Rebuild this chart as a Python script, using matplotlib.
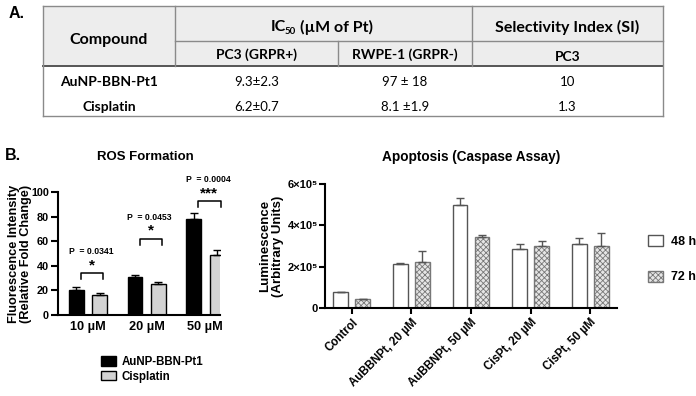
import numpy as np
import matplotlib
matplotlib.use("Agg")
import matplotlib.pyplot as plt
from matplotlib.patches import Rectangle

plt.rcParams['font.family'] = ['Liberation Sans', 'DejaVu Sans']
plt.rcParams['font.weight'] = 'bold'
plt.rcParams['hatch.linewidth'] = 0.6

# ---- table data (panel A)
compounds = ["AuNP-BBN-Pt1", "Cisplatin"]
ic50_pc3 = ["9.3±2.3", "6.2±0.7"]
ic50_rwpe = ["97 ± 18", "8.1 ±1.9"]
si_pc3 = ["10", "1.3"]

# ---- ROS formation data (panel B, left)
ros_doses = ["10 µM", "20 µM", "50 µM"]
ros_aunp = [20, 30.5, 78]
ros_aunp_err = [2.5, 2, 5]
ros_cis = [16.5, 25, 49]
ros_cis_err = [1, 2, 4]
ros_pvals = ["P  = 0.0341", "P  = 0.0453", "P  = 0.0004"]
ros_stars = ["*", "*", "***"]
ros_bracket = [34, 62, 92.5]

# ---- apoptosis data (panel B, right)
apo_groups = ["Control", "AuBBNPt, 20 µM", "AuBBNPt, 50 µM", "CisPt, 20 µM", "CisPt, 50 µM"]
apo_48h = [76e3, 213e3, 500e3, 285e3, 310e3]
apo_48h_err = [2e3, 6e3, 32e3, 25e3, 29e3]
apo_72h = [43e3, 223e3, 344e3, 298e3, 302e3]
apo_72h_err = [2e3, 51e3, 8e3, 28e3, 61e3]
apo_yticks = [0, 2e5, 4e5, 6e5]
apo_yticklabels = ["0", "2×10⁵", "4×10⁵", "6×10⁵"]

W, H = 696, 396
fig = plt.figure(figsize=(W / 100, H / 100), dpi=100)

# overlay axes in pixel coordinates for the table and panel letters
ov = fig.add_axes([0, 0, 1, 1])
ov.set_xlim(0, W)
ov.set_ylim(H, 0)
ov.axis('off')

tfont = ['Lato', 'DejaVu Sans']
L, R = 43, 663
c1, c2, c3 = 175, 338, 472
top, mid, hb, bot = 6, 41, 66, 116

ov.add_patch(Rectangle((L, top), R - L, hb - top, facecolor='#ededed', edgecolor='none'))
ov.plot([L, R], [top, top], color='#8a8a8a', lw=1)
ov.plot([c1, R], [mid, mid], color='#8a8a8a', lw=1)
ov.plot([L, R], [hb, hb], color='#555555', lw=1.4)
ov.plot([L, R], [bot, bot], color='#8a8a8a', lw=1)
for x in (L, R):
    ov.plot([x, x], [top, bot], color='#8a8a8a', lw=1)
for x in (c1, c3):
    ov.plot([x, x], [top, hb], color='#8a8a8a', lw=1)
ov.plot([c2, c2], [mid, hb], color='#8a8a8a', lw=1)

hdr = dict(family=tfont, fontweight='bold', va='center')
ov.text(17, 14, "A.", fontsize=11.5, fontweight='bold', ha='center', va='center')
ov.text((L + c1) / 2, 40, "Compound", fontsize=11.5, ha='center', **hdr)
ov.text(271, 27, "IC", fontsize=11.5, ha='left', **hdr)
ov.text(285, 31.5, "50", fontsize=7, ha='left', **hdr)
ov.text(300, 27, "(µM of Pt)", fontsize=11.5, ha='left', **hdr)
ov.text((c3 + R) / 2, 27, "Selectivity Index (SI)", fontsize=11.5, ha='center', **hdr)
ov.text((c1 + c2) / 2, 55, "PC3 (GRPR+)", fontsize=10, ha='center', **hdr)
ov.text((c2 + c3) / 2, 55, "RWPE-1 (GRPR-)", fontsize=10, ha='center', **hdr)
ov.text((c3 + R) / 2, 57, "PC3", fontsize=10, ha='center', **hdr)
row_y = [82, 107]
for i in range(len(compounds)):
    ov.text((L + c1) / 2, row_y[i], compounds[i], fontsize=10, ha='center', **hdr)
    body = dict(fontsize=9.5, family=tfont, fontweight='normal', ha='center', va='center')
    ov.text((c1 + c2) / 2, row_y[i], ic50_pc3[i], **body)
    ov.text((c2 + c3) / 2, row_y[i], ic50_rwpe[i], **body)
    ov.text((c3 + R) / 2, row_y[i], si_pc3[i], **body)

ov.text(13, 156, "B.", fontsize=11.5, fontweight='bold', ha='center', va='center')
ov.text(145, 157, "ROS Formation", fontsize=9.5, fontweight='bold', ha='center', va='center')
ov.text(471, 157, "Apoptosis (Caspase Assay)", fontsize=9.8, fontweight='bold', ha='center', va='center')


def px_axes(left, right, ytop, ybot):
    return fig.add_axes([left / W, (H - ybot) / H, (right - left) / W, (ybot - ytop) / H])


# ---- ROS panel
ax1 = px_axes(58, 220, 192, 315)
x = np.arange(len(ros_doses))
bw, off = 0.25, 0.2
ax1.bar(x - off, ros_aunp, bw, color='black', edgecolor='black', lw=1, label="AuNP-BBN-Pt1")
ax1.bar(x + off, ros_cis, bw, color='#d3d3d3', edgecolor='black', lw=1, label="Cisplatin")
ax1.errorbar(x - off, ros_aunp, yerr=[np.zeros(3), ros_aunp_err], fmt='none', ecolor='black', capsize=3, elinewidth=1)
ax1.errorbar(x + off, ros_cis, yerr=[np.zeros(3), ros_cis_err], fmt='none', ecolor='black', capsize=3, elinewidth=1)
for i in range(len(ros_doses)):
    b = ros_bracket[i]
    ax1.plot([i - 0.12, i - 0.12, i + 0.26, i + 0.26], [b - 5, b, b, b - 5], color='black', lw=1.1, clip_on=False)
    ax1.text(i + 0.07, b + 6.5, ros_stars[i], fontsize=11, fontweight='bold', ha='center', va='center', clip_on=False)
    ax1.text(i + 0.05, b + 17.5, ros_pvals[i], fontsize=6.2, fontweight='bold', ha='center', va='center', clip_on=False)
ax1.set_xlim(-0.51, 2.25)
ax1.set_ylim(0, 100)
ax1.set_yticks([0, 20, 40, 60, 80, 100])
ax1.set_xticks(x)
ax1.set_xticklabels(ros_doses)
ax1.set_ylabel("Fluorescence Intensity\n(Relative Fold Change)", fontsize=9.2, fontweight='bold',
               linespacing=1.0, va='center')
ax1.yaxis.set_label_coords(-38 / 162, 0.5)
for s in ('top', 'right'):
    ax1.spines[s].set_visible(False)
for s in ('left', 'bottom'):
    ax1.spines[s].set_linewidth(1.5)
ax1.tick_params(axis='y', width=1.5, length=5, labelsize=7.8, pad=1.5)
ax1.tick_params(axis='x', length=0, pad=4, labelsize=9.2)
for t in ax1.get_xticklabels() + ax1.get_yticklabels():
    t.set_fontweight('bold')
ax1.legend(loc='upper left', bbox_to_anchor=(95 / W, (H - 350) / H), bbox_transform=fig.transFigure,
           frameon=False, handlelength=1.3, handleheight=0.9, labelspacing=0.25,
           borderpad=0, handletextpad=0.5, prop={'weight': 'bold', 'size': 8.3})

# ---- apoptosis panel
ax2 = px_axes(325, 617, 184, 308)
xa = np.arange(len(apo_groups))
bw2, off2 = 0.25, 0.185
ax2.bar(xa - off2, apo_48h, bw2, color='white', edgecolor='#555555', lw=1, label="48 h")
ax2.bar(xa + off2, apo_72h, bw2, color='#e6e6e6', edgecolor='#777777', lw=1, hatch='xxxxxx', label="72 h")
ax2.errorbar(xa - off2, apo_48h, yerr=[np.zeros(5), apo_48h_err], fmt='none', ecolor='#555555', capsize=3, elinewidth=1)
ax2.errorbar(xa + off2, apo_72h, yerr=[np.zeros(5), apo_72h_err], fmt='none', ecolor='#555555', capsize=3, elinewidth=1)
ax2.set_xlim(-0.45, 4.45)
ax2.set_ylim(0, 6e5)
ax2.set_yticks(apo_yticks)
ax2.set_yticklabels(apo_yticklabels)
ax2.set_xticks(xa)
ax2.set_xticklabels(apo_groups, rotation=45, ha='right', rotation_mode='anchor')
ax2.set_ylabel("Luminescence\n(Arbitrary Units)", fontsize=9.5, fontweight='bold', labelpad=3, linespacing=1.0)
for s in ('top', 'right'):
    ax2.spines[s].set_visible(False)
for s in ('left', 'bottom'):
    ax2.spines[s].set_linewidth(1.5)
ax2.tick_params(axis='y', width=1.5, length=4, labelsize=8, pad=1)
ax2.tick_params(axis='x', width=1.5, length=4, labelsize=8.3, pad=2)
for t in ax2.get_xticklabels() + ax2.get_yticklabels():
    t.set_fontweight('bold')
ax2.legend(loc='upper left', bbox_to_anchor=(642 / W, (H - 229) / H), bbox_transform=fig.transFigure,
           frameon=False, handlelength=1.2, handleheight=1.0, labelspacing=1.8,
           borderpad=0, handletextpad=0.6, prop={'weight': 'bold', 'size': 9})

fig.savefig("out.png", dpi=100)
